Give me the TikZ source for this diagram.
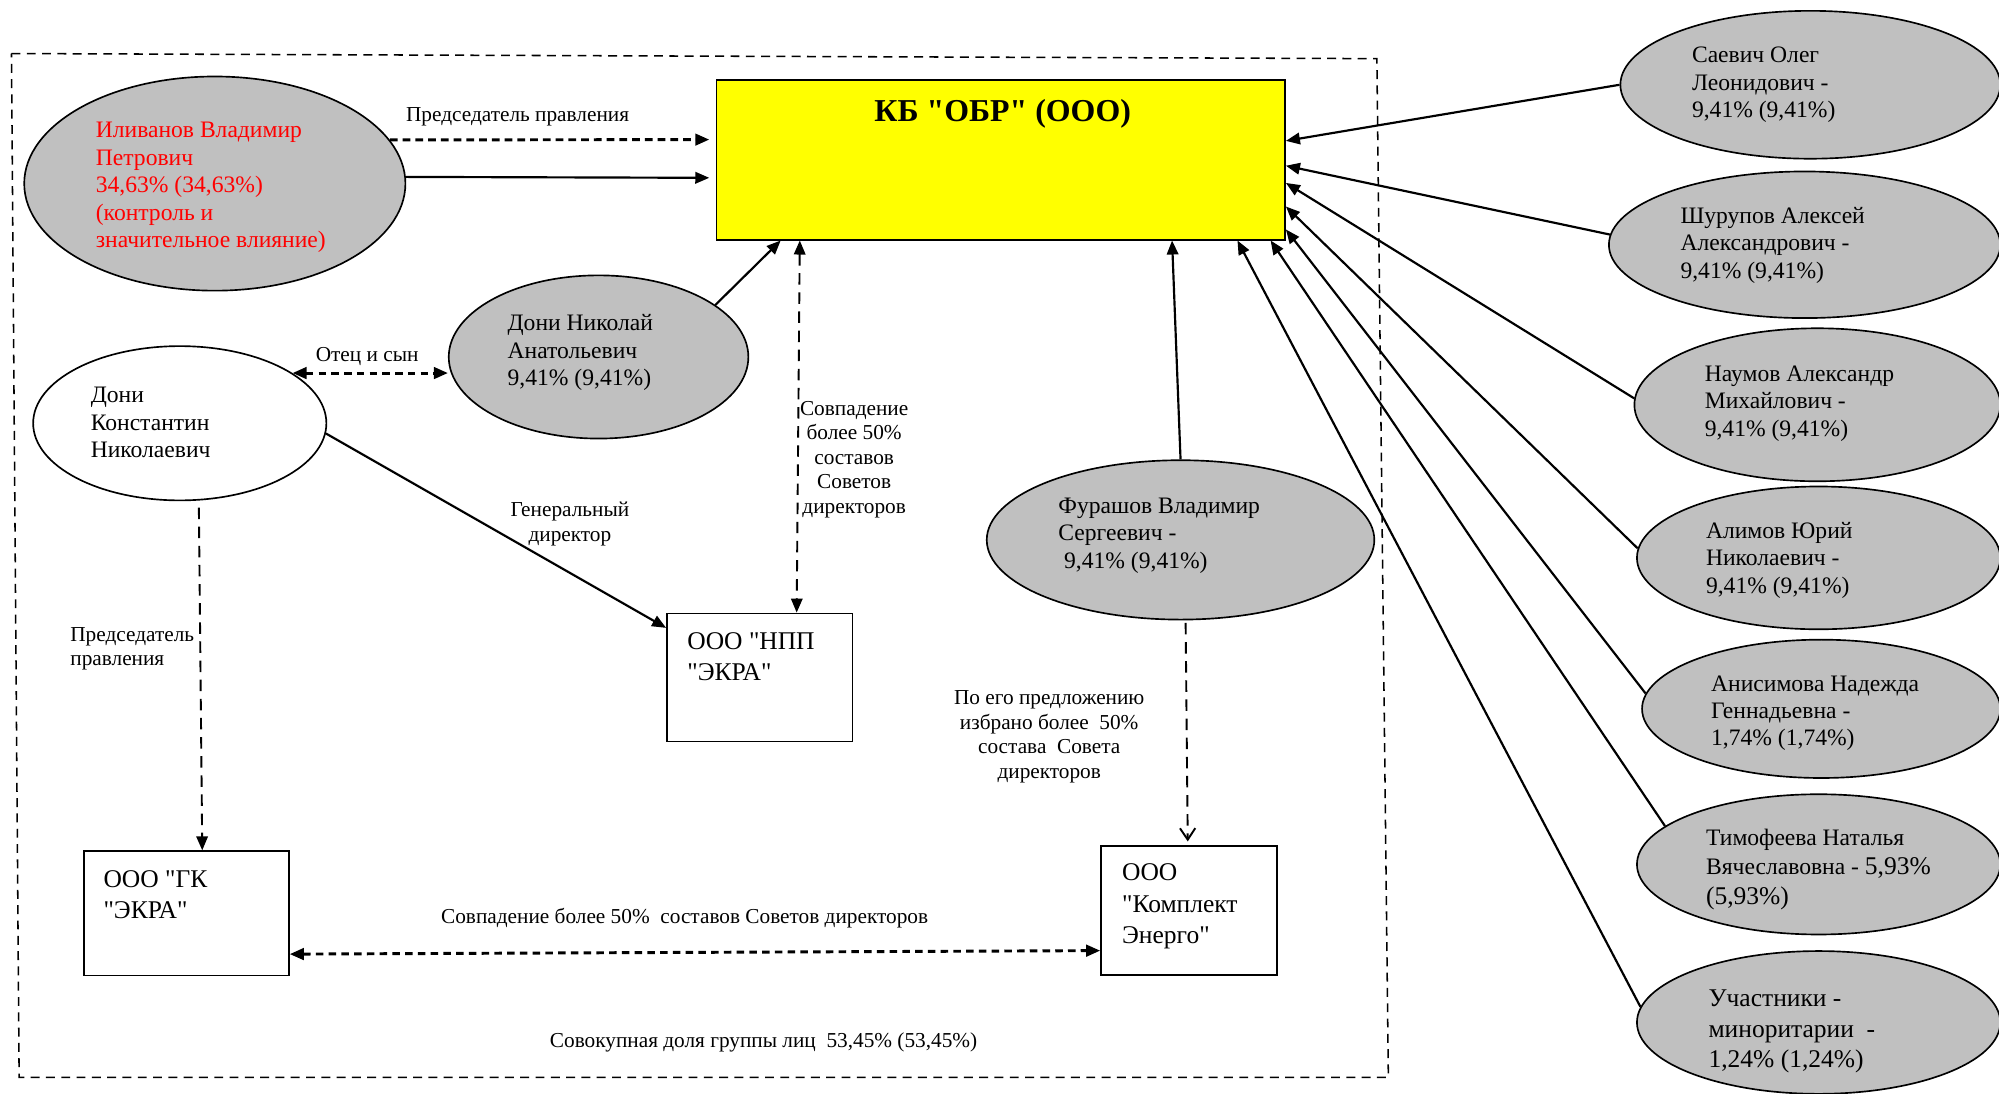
\documentclass[tikz,border=0pt]{standalone}
\usepackage{fontspec}
\setmainfont{Liberation Serif}[Ligatures=TeXOff]
\usetikzlibrary{arrows.meta,shapes.geometric,calc}
\definecolor{grayfill}{HTML}{C0C0C0}
\definecolor{kbyellow}{HTML}{FFFF00}
\begin{document}
\begin{tikzpicture}[x=1pt,y=-1pt,
  gell/.style={ellipse,draw,line width=1.3pt,fill=grayfill,inner sep=0pt},
  well/.style={ellipse,draw,line width=1.3pt,fill=white,inner sep=0pt},
  obox/.style={rectangle,draw,line width=1.3pt,inner sep=0pt,anchor=north west},
  etxt/.style={inner sep=0pt,align=left,anchor=west,font=\fontsize{18.5}{21.5}\selectfont},
  lbl/.style={inner sep=0pt,align=center,font=\fontsize{16.7}{19.3}\selectfont},
  btxt/.style={inner sep=0pt,align=left,anchor=west,font=\fontsize{20}{24.5}\selectfont},
  arrowto/.style={-{Triangle[length=11pt,width=9pt]}},
  arrowboth/.style={{Triangle[length=11pt,width=9pt]}-{Triangle[length=11pt,width=9pt]}},
  solidc/.style={line width=1.7pt},
  hdash/.style={line width=2.3pt,dash pattern=on 6pt off 4pt},
  vdash/.style={line width=1.5pt,dash pattern=on 9pt off 6pt},
  frame/.style={line width=1.2pt,dash pattern=on 7pt off 5pt},
]
\useasboundingbox (0,0) rectangle (1568,858);
\clip (0,0) rectangle (1568,858);

% outer dashed frame
\draw[frame] (9,42) -- (1080,46) -- (1089,845) -- (15,845) -- cycle;

% main box
\node[rectangle,draw,line width=1.3pt,fill=kbyellow,minimum width=446pt,minimum height=125pt,inner sep=0pt] (kb) at (785,125.5) {};
\node[inner sep=0pt,font=\bfseries\fontsize{25}{29}\selectfont] (kbt) at (786.5,89) {КБ "ОБР" (ООО)};

% left ellipses
\node[gell,minimum width=299pt,minimum height=168pt] (ili) at (168.5,144) {};
\node[etxt,text=red] (ilit) at (75,147) {Иливанов Владимир\\Петрович\\34,63\% (34,63\%)\\(контроль и\\значительное влияние)};

\node[gell,minimum width=235pt,minimum height=128pt] (dn) at (469.5,280) {};
\node[etxt] (dnt) at (398,276.5) {Дони Николай\\Анатольевич\\9,41\% (9,41\%)};

\node[well,minimum width=230pt,minimum height=121pt] (dk) at (141,332) {};
\node[etxt] (dkt) at (71,331.5) {Дони\\Константин\\Николаевич};

\node[gell,minimum width=304pt,minimum height=125pt] (fur) at (926,423.5) {};
\node[etxt] (furt) at (830,420) {Фурашов Владимир\\Сергеевич -\\\hspace{4.5pt}9,41\% (9,41\%)};

% right ellipses
\node[gell,minimum width=298pt,minimum height=116pt] (sav) at (1420,66.5) {};
\node[etxt] (savt) at (1327,66.5) {Саевич Олег\\Леонидович -\\9,41\% (9,41\%)};

\node[gell,minimum width=307pt,minimum height=115pt] (shu) at (1415.5,192) {};
\node[etxt] (shut) at (1318,192.5) {Шурупов Алексей\\Александрович -\\9,41\% (9,41\%)};

\node[gell,minimum width=287pt,minimum height=120pt] (nau) at (1425.5,317.5) {};
\node[etxt] (naut) at (1337,316.5) {Наумов Александр\\Михайлович -\\9,41\% (9,41\%)};

\node[gell,minimum width=285pt,minimum height=112pt] (ali) at (1426.5,437.6) {};
\node[etxt] (alit) at (1338,439.5) {Алимов Юрий\\Николаевич -\\9,41\% (9,41\%)};

\node[gell,minimum width=281pt,minimum height=108.5pt] (ani) at (1428.5,556) {};
\node[etxt] (anit) at (1342,559.5) {Анисимова Надежда\\Геннадьевна -\\1,74\% (1,74\%)};

\node[gell,minimum width=285pt,minimum height=110pt] (tim) at (1426.5,678) {};
\node[etxt,font=\fontsize{18.5}{23}\selectfont] (timt) at (1338,682) {Тимофеева Наталья\\Вячеславовна - {\fontsize{20}{23}\selectfont 5,93\%}\\{\fontsize{20}{23}\selectfont (5,93\%)}};

\node[gell,minimum width=285pt,minimum height=112pt] (uch) at (1426.5,802) {};
\node[etxt,font=\fontsize{20}{24}\selectfont] (ucht) at (1340,809) {Участники -\\миноритарии~ -\\1,24\% (1,24\%)};

% boxes
\node[obox,minimum width=145.5pt,minimum height=100.5pt] (npp) at (522.5,480.5) {};
\node[btxt] (nppt) at (539,515) {ООО "НПП\\"ЭКРА"};

\node[obox,minimum width=161pt,minimum height=97.5pt] (gk) at (65,667) {};
\node[btxt] (gkt) at (81,701.5) {ООО "ГК\\"ЭКРА"};

\node[obox,minimum width=138pt,minimum height=101pt] (komp) at (863,663) {};
\node[btxt] (kompt) at (880,711) {ООО\\"Комплект\\Энерго"};

% labels
\node[lbl] (l1) at (406,91.5) {Председатель правления};
\node[lbl] (l2) at (288,280) {Отец и сын};
\node[lbl] (l3) at (447,411) {Генеральный\\директор};
\node[lbl] (l4) at (670,360.5) {Совпадение\\более 50\%\\составов\\Советов\\директоров};
\node[lbl,align=left,anchor=west] (l5) at (55,509) {Председатель\\правления};
\node[lbl] (l6) at (823,578) {По его предложению\\избрано более~ 50\%\\состава~ Совета\\директоров};
\node[lbl] (l7) at (537,720) {Совпадение более 50\%~ составов Советов директоров};
\node[lbl] (l8) at (599,818) {Совокупная доля группы лиц~ 53,45\% (53,45\%)};

% connectors: left side
\draw[hdash,arrowto,shorten >=5pt] (ili.14.2) -- ([yshift=16pt]kb.west);
\draw[solidc,arrowto,shorten >=5pt] (ili.2) -- ([yshift=-14pt]kb.west);
\draw[solidc,arrowto] (dn.24) -- ([xshift=51pt]kb.south west);
\draw[vdash,arrowboth] ([xshift=66pt]kb.south west) -- ([xshift=29pt]npp.north);
\draw[hdash,arrowboth] (dk.24) -- (dk.24 -| dn.west);
\draw[solidc,arrowto] (dk.-4) -- ([yshift=-12pt]npp.north west);
\draw[vdash,arrowto] ([xshift=15pt,yshift=-5pt]dk.south) -- ([xshift=12.5pt]gk.north);
\draw[solidc,arrowto] (fur.north) -- ([xshift=358pt]kb.south west);
\draw[vdash,-{Straight Barb[length=9pt,width=12pt]}] ([xshift=4pt,yshift=-2pt]fur.south) -- ([xshift=-1pt,yshift=3pt]komp.north);
\draw[hdash,arrowboth] ([yshift=-32pt]gk.east) -- ([yshift=-31.5pt]komp.west);

% connectors: right side
\draw[solidc,arrowto] (sav.west) -- ([yshift=15pt]kb.east);
\draw[solidc,arrowto] (shu.177) -- ([yshift=-4.5pt]kb.east);
\draw[solidc,arrowto] (nau.178) -- ([yshift=-18pt]kb.east);
\draw[solidc,arrowto] (ali.177) -- ([yshift=-36.5pt]kb.east);
\draw[solidc,arrowto] (ani.175.5) -- ([yshift=-54.5pt]kb.east);
\draw[solidc,arrowto] (tim.166) -- ([xshift=-12pt]kb.south east);
\draw[solidc,arrowto] (uch.175) -- ([xshift=-38pt]kb.south east);
\end{tikzpicture}
\end{document}
